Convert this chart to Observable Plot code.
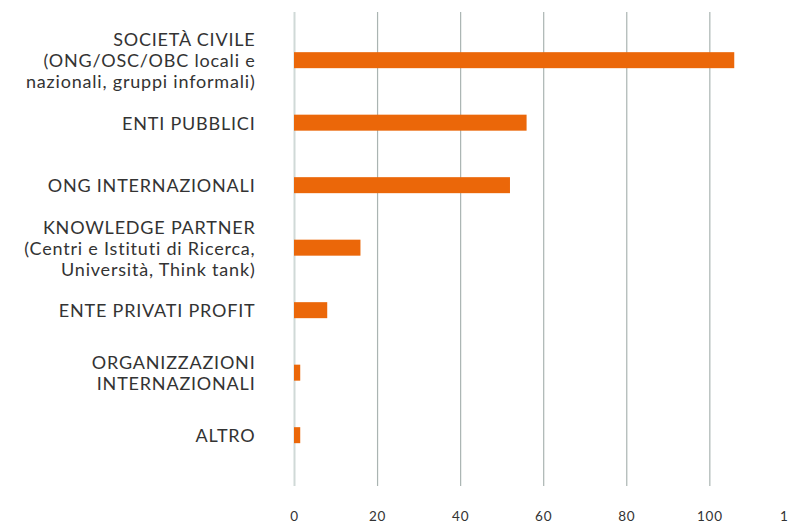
<!DOCTYPE html>
<html>
<head>
<meta charset="utf-8">
<script src="https://cdn.jsdelivr.net/npm/d3@7"></script>
<script src="https://cdn.jsdelivr.net/npm/@observablehq/plot@0.6"></script>
<style>
  html, body { margin: 0; padding: 0; background: #fff; overflow: hidden; }
  #chart { width: 788px; height: 523px; overflow: hidden; }
  svg { display: block; max-width: none !important; }
  [aria-label="y-axis tick label"] text { letter-spacing: 0.8px; }
  [aria-label="x-axis tick label"] text { letter-spacing: 0.8px; }
</style>
</head>
<body>
<div id="chart"></div>
<script>
const categories = [
  "SOCIETÀ CIVILE\n(ONG/OSC/OBC locali e\nnazionali, gruppi informali)",
  "ENTI PUBBLICI",
  "ONG INTERNAZIONALI",
  "KNOWLEDGE PARTNER\n(Centri e Istituti di Ricerca,\nUniversità, Think tank)",
  "ENTE PRIVATI PROFIT",
  "ORGANIZZAZIONI\nINTERNAZIONALI",
  "ALTRO"
];
const values = [106, 56, 52, 16, 8, 1.5, 1.5];
const xTicks = [0, 20, 40, 60, 80, 100, 120];

const data = categories.map((c, i) => ({category: c, value: values[i]}));

const chart = Plot.plot({
  width: 810,
  height: 523,
  marginLeft: 294,
  marginRight: 17.6,
  marginTop: 12,
  marginBottom: 37,
  style: {fontFamily: "Lato, 'Open Sans', sans-serif", color: "#333", background: "#fff", maxWidth: "none"},
  x: {domain: [0, 120], ticks: xTicks},
  y: {domain: categories, paddingInner: 0.744, paddingOuter: 0.664, align: 0.484, round: false},
  marks: [
    Plot.ruleX(xTicks.filter(d => d !== 0), {stroke: "#aab4b2", strokeWidth: 1.2}),
    Plot.ruleX([0], {stroke: "#d0d9d7", strokeWidth: 2}),
    Plot.barX(data, {x: "value", y: "category", fill: "#eb6709"}),
    Plot.axisX({ticks: xTicks, tickSize: 0, tickPadding: 25, label: null, fontSize: 13.5, fill: "#333"}),
    Plot.axisY({tickSize: 0, tickPadding: 39, label: null, fontSize: 18, lineHeight: 1.17, fill: "#333"})
  ]
});
document.getElementById("chart").appendChild(chart);
</script>
</body>
</html>
